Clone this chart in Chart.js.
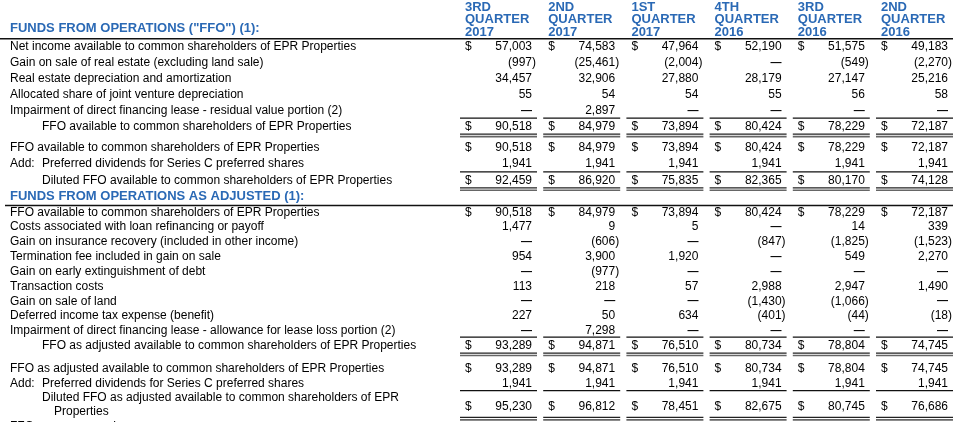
<!DOCTYPE html>
<html>
<head>
<meta charset="utf-8">
<title>EPR Properties - Funds From Operations</title>
<script src="https://cdn.jsdelivr.net/npm/chart.js@4.4.0/dist/chart.umd.min.js"></script>
<style>
  html, body { margin: 0; padding: 0; background: #fff; }
  #wrap { position: relative; width: 976px; height: 422px; }
</style>
</head>
<body>
<div id="wrap"><canvas id="ffo-chart"></canvas></div>
<script>
// Column headings
const quarterNames = ['3RD', '2ND', '1ST', '4TH', '3RD', '2ND'];
const quarterYears = ['2017', '2017', '2017', '2016', '2016', '2016'];

// Funds from operations (in thousands, null = dash)
const netIncome = [57003, 74583, 47964, 52190, 51575, 49183];
const gainOnSaleRealEstate = [-997, -25461, -2004, null, -549, -2270];
const realEstateDepreciation = [34457, 32906, 27880, 28179, 27147, 25216];
const jointVentureDepreciation = [55, 54, 54, 55, 56, 58];
const impairmentResidual = [null, 2897, null, null, null, null];
const ffoAvailable = [90518, 84979, 73894, 80424, 78229, 72187];
const preferredDividends = [1941, 1941, 1941, 1941, 1941, 1941];
const dilutedFfo = [92459, 86920, 75835, 82365, 80170, 74128];

// Funds from operations as adjusted
const loanRefinancingCosts = [1477, 9, 5, null, 14, 339];
const insuranceRecoveryGain = [null, -606, null, -847, -1825, -1523];
const terminationFee = [954, 3900, 1920, null, 549, 2270];
const debtExtinguishmentGain = [null, -977, null, null, null, null];
const transactionCosts = [113, 218, 57, 2988, 2947, 1490];
const landSaleGain = [null, null, null, -1430, -1066, null];
const deferredIncomeTax = [227, 50, 634, -401, -44, -18];
const impairmentAllowance = [null, 7298, null, null, null, null];
const ffoAsAdjusted = [93289, 94871, 76510, 80734, 78804, 74745];
const dilutedFfoAsAdjusted = [95230, 96812, 78451, 82675, 80745, 76686];

const BLUE = '#2a69b5';
const FONT = '"Liberation Sans", Arial, sans-serif';

// Row layout for each block of the table
const ffoRows = [
    { label: 'Net income available to common shareholders of EPR Properties', values: netIncome, dollar: true },
    { label: 'Gain on sale of real estate (excluding land sale)', values: gainOnSaleRealEstate },
    { label: 'Real estate depreciation and amortization', values: realEstateDepreciation },
    { label: 'Allocated share of joint venture depreciation', values: jointVentureDepreciation },
    { label: 'Impairment of direct financing lease - residual value portion (2)', values: impairmentResidual },
    { label: 'FFO available to common shareholders of EPR Properties', values: ffoAvailable, dollar: true, total: true, indent: true }
];
const dilutedRows = [
    { label: 'FFO available to common shareholders of EPR Properties', values: ffoAvailable, dollar: true },
    { label: 'Preferred dividends for Series C preferred shares', values: preferredDividends, add: true },
    { label: 'Diluted FFO available to common shareholders of EPR Properties', values: dilutedFfo, dollar: true, total: true, indent: true },
    { label: 'FUNDS FROM OPERATIONS AS ADJUSTED (1):', header: true }
];
const adjustedRows = [
    { label: 'FFO available to common shareholders of EPR Properties', values: ffoAvailable, dollar: true },
    { label: 'Costs associated with loan refinancing or payoff', values: loanRefinancingCosts },
    { label: 'Gain on insurance recovery (included in other income)', values: insuranceRecoveryGain },
    { label: 'Termination fee included in gain on sale', values: terminationFee },
    { label: 'Gain on early extinguishment of debt', values: debtExtinguishmentGain },
    { label: 'Transaction costs', values: transactionCosts },
    { label: 'Gain on sale of land', values: landSaleGain },
    { label: 'Deferred income tax expense (benefit)', values: deferredIncomeTax },
    { label: 'Impairment of direct financing lease - allowance for lease loss portion (2)', values: impairmentAllowance },
    { label: 'FFO as adjusted available to common shareholders of EPR Properties', values: ffoAsAdjusted, dollar: true, total: true, indent: true }
];
const dilutedAdjustedRows = [
    { label: 'FFO as adjusted available to common shareholders of EPR Properties', values: ffoAsAdjusted, dollar: true },
    { label: 'Preferred dividends for Series C preferred shares', values: preferredDividends, add: true },
    { label: 'Diluted FFO as adjusted available to common shareholders of EPR', cont: 'Properties', values: dilutedFfoAsAdjusted, dollar: true, total: true, indent: true }
];

// Each block gets its own category axis, stacked top to bottom
const sections = [
    { id: 'yFfo', rows: ffoRows, weight: 96 },
    { id: 'yGap1', rows: [], weight: 4.8 },
    { id: 'yDiluted', rows: dilutedRows, weight: 65.4 },
    { id: 'yAdjusted', rows: adjustedRows, weight: 148.15 },
    { id: 'yGap2', rows: [], weight: 8.8 },
    { id: 'yDilutedAdj', rows: dilutedAdjustedRows, weight: 57.2 }
];

function slotLabels(rows) {
    const labels = [];
    rows.forEach(r => {
        labels.push(r.label);
        if (r.cont) labels.push(r.cont);
    });
    return labels.length ? labels : [''];
}

function formatValue(v) {
    return Math.abs(v).toLocaleString('en-US');
}

function drawRule(ctx, x1, x2, y, width, color) {
    ctx.beginPath();
    ctx.lineWidth = width;
    ctx.strokeStyle = color;
    ctx.moveTo(x1, y);
    ctx.lineTo(x2, y);
    ctx.stroke();
}

const tablePlugin = {
    id: 'ffoTable',
    afterDraw(chart) {
        const ctx = chart.ctx;
        const xs = chart.scales.x;
        const area = chart.chartArea;
        const colRight = i => xs.getPixelForValue(i);
        const tableRight = colRight(quarterNames.length - 1) + 5;

        ctx.save();
        ctx.textBaseline = 'middle';

        // Column headings
        ctx.fillStyle = BLUE;
        ctx.font = 'bold 13px ' + FONT;
        ctx.textAlign = 'left';
        quarterNames.forEach((q, i) => {
            const x = colRight(i) - 67;
            ctx.fillText(q, x, area.top - 31.5);
            ctx.fillText('QUARTER', x, area.top - 19);
            ctx.fillText(quarterYears[i], x, area.top - 6);
        });
        ctx.fillText('FUNDS FROM OPERATIONS ("FFO") (1):', 10, area.top - 10.5);
        drawRule(ctx, 0, tableRight, area.top, 1.4, '#111');

        sections.forEach(sec => {
            const ys = chart.scales[sec.id];
            let slot = 0;
            sec.rows.forEach(row => {
                const yTop = ys.getPixelForValue(slot);
                const yEnd = ys.getPixelForValue(slot + (row.cont ? 1 : 0));
                const yVal = (yTop + yEnd) / 2 + (row.cont ? 1.5 : 0);
                slot += row.cont ? 2 : 1;

                if (row.header) {
                    ctx.fillStyle = BLUE;
                    ctx.font = 'bold 13px ' + FONT;
                    ctx.textAlign = 'left';
                    ctx.fillText(row.label, 10, yTop);
                    drawRule(ctx, 5, tableRight, yTop + 8.7, 1.4, '#111');
                    return;
                }

                // Row label
                ctx.fillStyle = '#000';
                ctx.font = '12px ' + FONT;
                ctx.textAlign = 'left';
                if (row.add) ctx.fillText('Add:', 10, yTop);
                ctx.fillText(row.label, row.indent || row.add ? 42 : 10, yTop);
                if (row.cont) ctx.fillText(row.cont, 54, yEnd);

                // Rule offsets (two-line rows sit tighter)
                const above = row.cont ? 7 : 8.5;
                const below = row.cont ? 5.5 : 7.4;

                // Cells
                row.values.forEach((v, i) => {
                    const right = colRight(i);
                    ctx.font = '12px ' + FONT;
                    if (row.dollar) {
                        ctx.textAlign = 'left';
                        ctx.fillText('$', right - 67, yVal);
                    }
                    ctx.textAlign = 'right';
                    if (v === null) {
                        ctx.font = 'bold 11px ' + FONT;
                        ctx.fillText('\u2014', right, yVal);
                    } else if (v < 0) {
                        const hang = ctx.measureText(')').width;
                        ctx.fillText('(' + formatValue(v) + ')', right + hang, yVal);
                    } else {
                        ctx.fillText(formatValue(v), right, yVal);
                    }
                    if (row.total) {
                        drawRule(ctx, right - 72, right + 5, yTop - above, 1.3, '#111');
                        drawRule(ctx, right - 72, right + 5, yEnd + below, 1.2, '#222');
                        drawRule(ctx, right - 72, right + 5, yEnd + below + 2.5, 1.6, '#666');
                    }
                });
            });
        });

        // Next block of the statement, cut off by the bottom edge
        ctx.fillStyle = '#000';
        ctx.font = '12px ' + FONT;
        ctx.textAlign = 'left';
        ctx.fillText('FFO per common share:', 10, area.bottom + 8);

        ctx.restore();
    }
};

function initTable() {
    const scales = {
        x: {
            type: 'category',
            labels: quarterNames.map((q, i) => q + ' QUARTER ' + quarterYears[i]),
            display: false,
            offset: false
        }
    };
    sections.forEach(sec => {
        scales[sec.id] = {
            type: 'category',
            axis: 'y',
            labels: slotLabels(sec.rows),
            display: false,
            offset: true,
            position: 'right',
            stack: 'rows',
            stackWeight: sec.weight
        };
    });

    const ctx = document.getElementById('ffo-chart').getContext('2d');
    window.ffoChart = new Chart(ctx, {
        type: 'line',
        data: { datasets: [] },
        options: {
            responsive: true,
            maintainAspectRatio: false,
            animation: false,
            layout: {
                padding: { left: 532, right: 28, top: 38.7, bottom: 2.95 }
            },
            plugins: {
                legend: { display: false },
                tooltip: { enabled: false }
            },
            scales: scales
        },
        plugins: [tablePlugin]
    });
}

document.addEventListener('DOMContentLoaded', initTable);
</script>
</body>
</html>
